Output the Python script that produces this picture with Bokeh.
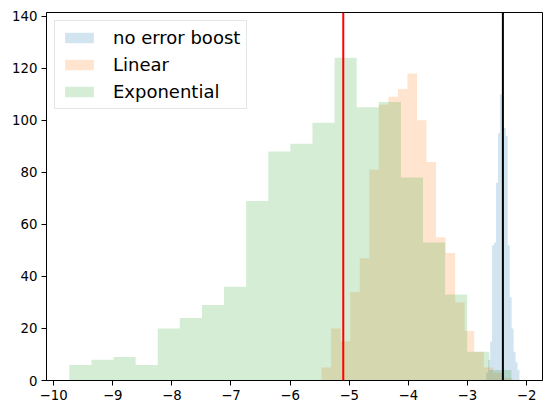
import numpy as np

from bokeh.embed import file_html
from bokeh.models import ColumnDataSource, FixedTicker, Legend, LegendItem, Span
from bokeh.plotting import figure
from bokeh.resources import INLINE

# counts per bin
labels = ["no error boost", "Linear", "Exponential"]
colors = ["#1f77b4", "#ff7f0e", "#2ca02c"]

base_range = (-2.681, -2.120)
base_counts = [3, 8, 15, 52, 53, 76, 95, 110, 135, 97, 94, 52, 32, 20, 11, 7, 4]

linear_range = (-5.467, -2.239)
linear_counts = [5, 20, 15, 34, 47, 81, 106, 109, 112, 118, 100, 84, 55, 49, 30, 19, 11, 5, 3, 1]

expo_range = (-9.734, -2.256)
expo_counts = [6, 8, 9, 6, 20, 24, 29, 36, 69, 88, 91, 99, 124, 105, 107, 78, 53, 33, 11, 4]

red_line = -5.1
black_line = -2.4

x_ticks = [-10, -9, -8, -7, -6, -5, -4, -3, -2]
y_ticks = [0, 20, 40, 60, 80, 100, 120, 140]

FONT = "DejaVu Sans"

p = figure(width=552, height=414, x_range=(-10.12, -1.73), y_range=(0, 141.4),
           output_backend="svg", toolbar_location=None)
p.min_border_left = 46
p.min_border_right = 10
p.min_border_top = 12
p.min_border_bottom = 34

items = []
for (lo, hi), counts, color, label in zip([base_range, linear_range, expo_range],
                                          [base_counts, linear_counts, expo_counts],
                                          colors, labels):
    edges = np.linspace(lo, hi, len(counts) + 1)
    src = ColumnDataSource(dict(x=edges, y=list(counts) + [counts[-1]]))
    r = p.varea_step(x="x", y1=0, y2="y", step_mode="after", source=src,
                     fill_color=color, fill_alpha=0.2)
    items.append(LegendItem(label=label, renderers=[r]))

p.add_layout(Span(location=red_line, dimension="height", line_color="red", line_width=2))
p.add_layout(Span(location=black_line, dimension="height", line_color="black", line_width=2))

legend = Legend(items=items, location="top_left")
legend.margin = 8
legend.padding = 6
legend.spacing = 6
legend.glyph_width = 36
legend.glyph_height = 13
legend.label_standoff = 16
legend.label_text_font = FONT
legend.label_text_font_size = "18px"
legend.label_text_color = "black"
legend.border_line_color = "#cccccc"
legend.background_fill_alpha = 0.8
p.add_layout(legend)

p.xgrid.grid_line_color = None
p.ygrid.grid_line_color = None
p.outline_line_color = "black"
p.outline_line_width = 1

p.xaxis.ticker = FixedTicker(ticks=x_ticks)
p.yaxis.ticker = FixedTicker(ticks=y_ticks)
p.xaxis.major_label_overrides = {t: ("\u2212" + str(abs(t)) if t < 0 else str(t)) for t in x_ticks}
p.axis.minor_tick_line_color = None
p.axis.major_tick_in = 0
p.axis.major_tick_out = 5
p.axis.axis_line_color = "black"
p.axis.major_tick_line_color = "black"
p.axis.major_label_text_font = FONT
p.axis.major_label_text_font_size = "13.3px"
p.axis.major_label_text_color = "black"
p.axis.major_label_standoff = 4

open("out.html", "w").write(file_html(p, INLINE))
